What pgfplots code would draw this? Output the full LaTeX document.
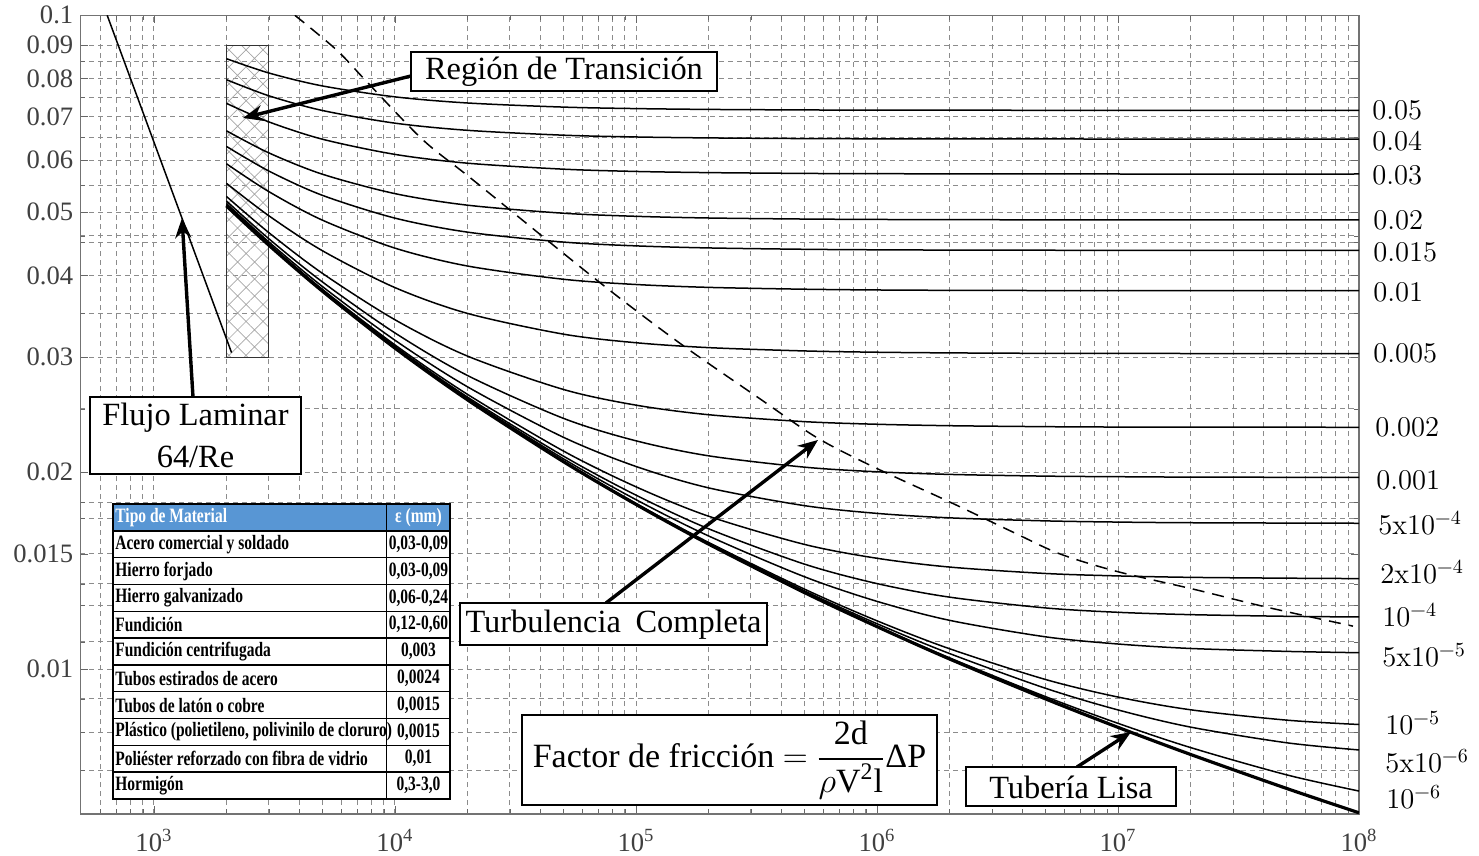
\documentclass[border=0pt]{standalone}
\usepackage{amsmath}
\usepackage{fontspec}
\setmainfont{Liberation Serif}
\newfontfamily\narrowserif[FakeStretch=0.76]{Liberation Serif}
\usepackage{pgfplots}
\pgfplotsset{compat=1.18}
\usetikzlibrary{arrows.meta,patterns.meta,calc}
\definecolor{hdr}{RGB}{88,150,212}
\definecolor{gridc}{RGB}{140,140,140}
\newcommand\lmfont{\fontfamily{lmr}\fontsize{14.3}{16}\selectfont}
\begin{document}
\begin{tikzpicture}
\begin{axis}[
  scale only axis, width=639.35pt, height=399.35pt,
  xmode=log, ymode=log,
  xmin=495, xmax=1e8, ymin=0.006, ymax=0.1,
  xtick={1e3,1e4,1e5,1e6,1e7,1e8},
  xticklabels={10\textsuperscript{3},10\textsuperscript{4},10\textsuperscript{5},10\textsuperscript{6},10\textsuperscript{7},10\textsuperscript{8}},
  minor xtick={600,700,800,900,2000,3000,4000,5000,6000,7000,8000,9000,
    2e4,3e4,4e4,5e4,6e4,7e4,8e4,9e4,2e5,3e5,4e5,5e5,6e5,7e5,8e5,9e5,
    2e6,3e6,4e6,5e6,6e6,7e6,8e6,9e6,2e7,3e7,4e7,5e7,6e7,7e7,8e7,9e7},
  ytick={0.01,0.015,0.02,0.03,0.04,0.05,0.06,0.07,0.08,0.09,0.1},
  yticklabels={0.01,0.015,0.02,0.03,0.04,0.05,0.06,0.07,0.08,0.09,0.1},
  minor ytick={0.007,0.008,0.009,0.011,0.0125,0.0135,0.017,0.018,0.025,0.035,0.045,0.046,0.055,0.065,0.075,0.085},
  grid=both,
  major grid style={gridc, line width=0.45pt, dash pattern=on 2.5pt off 2pt},
  minor grid style={gridc, line width=0.45pt, dash pattern=on 2.5pt off 2pt},
  axis line style={black!55, line width=0.7pt},
  major tick length=4pt, minor tick length=2.5pt,
  tick style={black!60},
  tick label style={font=\fontsize{13.3}{15}\selectfont, text=black!75},
  xticklabel style={yshift=-4pt},
  curve/.style={black, solid, line width=0.75pt, smooth, mark=none},
  clip=true,
]
\coordinate (SW) at (rel axis cs:0,0);
% transition region
\draw[black!80, line width=0.5pt, pattern={Hatch[angle=45,distance=6pt,line width=0.35pt]}, pattern color=black!35]
  (axis cs:2000,0.03) rectangle (axis cs:3000,0.09);
% laminar 64/Re
\addplot[curve, sharp plot] coordinates {(640,0.1) (2100,0.030476)};
% dashed complete turbulence boundary
\addplot[curve, dash pattern=on 6pt off 4pt] coordinates {(3846,0.1) (5728,0.0885) (7631,0.0792) (13060,0.0645) (21070,0.0560) (70900,0.0390) (152200,0.0315) (327000,0.0259) (562000,0.0226) (961700,0.0204) (2.01e6,0.0180) (3.66e6,0.0162) (5.74e6,0.0150) (9.9e6,0.0141) (2.05e7,0.01325) (4.15e7,0.01243) (9.44e7,0.01163)};
% 0.05
\addplot[curve] coordinates {(2000,0.08583)(3000,0.08161)(5000,0.07799)(1e4,0.07504)(2e4,0.07344)(5e4,0.07238)(1e5,0.07200)(2e5,0.07179)(5e5,0.07166)(1e6,0.07161)(1e7,0.07156)(1e8,0.07155)};
% 0.04
\addplot[curve] coordinates {(2000,0.07972)(3000,0.07532)(5000,0.07152)(1e4,0.06840)(2e4,0.06669)(5e4,0.06556)(1e5,0.06515)(2e5,0.06493)(5e5,0.06478)(1e6,0.06473)(1e7,0.06468)(1e8,0.06467)};
% 0.03
\addplot[curve] coordinates {(2000,0.07334)(3000,0.06870)(5000,0.06464)(1e4,0.06127)(2e4,0.05940)(5e4,0.05816)(1e5,0.05770)(2e5,0.05746)(5e5,0.05730)(1e6,0.05724)(1e7,0.05718)(1e8,0.05718)};
% 0.02
\addplot[curve] coordinates {(2000,0.06658)(3000,0.06159)(5000,0.05714)(1e4,0.05336)(2e4,0.05123)(5e4,0.04980)(1e5,0.04926)(2e5,0.04897)(5e5,0.04879)(1e6,0.04872)(2e6,0.04868)(1e7,0.04865)(1e8,0.04864)};
% 0.015
\addplot[curve] coordinates {(2000,0.06302)(3000,0.05778)(5000,0.05304)(1e4,0.04895)(2e4,0.04659)(5e4,0.04499)(1e5,0.04439)(2e5,0.04407)(5e5,0.04386)(1e6,0.04378)(2e6,0.04374)(1e7,0.04370)(1e8,0.04369)};
% 0.01
\addplot[curve] coordinates {(2000,0.05928)(3000,0.05373)(5000,0.04860)(1e4,0.04404)(2e4,0.04135)(5e4,0.03947)(1e5,0.03875)(2e5,0.03836)(5e5,0.03811)(1e6,0.03801)(2e6,0.03796)(5e6,0.03793)(1e7,0.03792)(1e8,0.03791)};
% 0.005
\addplot[curve] coordinates {(2000,0.05533)(3000,0.04935)(5000,0.04364)(1e4,0.03833)(2e4,0.03499)(5e4,0.03253)(1e5,0.03156)(2e5,0.03102)(5e5,0.03066)(1e6,0.03052)(2e6,0.03045)(5e6,0.03040)(1e7,0.03039)(1e8,0.03037)};
% 0.002
\addplot[curve] coordinates {(2000,0.05283)(3000,0.04650)(5000,0.04030)(1e4,0.03422)(2e4,0.03011)(5e4,0.02677)(1e5,0.02533)(2e5,0.02449)(5e5,0.02390)(1e6,0.02368)(2e6,0.02356)(5e6,0.02348)(1e7,0.02345)(1e8,0.02343)};
% 0.001
\addplot[curve] coordinates {(2000,0.05197)(3000,0.04551)(5000,0.03910)(1e4,0.03267)(2e4,0.02812)(5e4,0.02418)(1e5,0.02234)(2e5,0.02119)(5e5,0.02036)(1e6,0.02003)(2e6,0.01985)(5e6,0.01973)(1e7,0.01969)(2e7,0.01966)(1e8,0.01964)};
% 5e-4
\addplot[curve] coordinates {(2000,0.05153)(3000,0.04500)(5000,0.03848)(1e4,0.03184)(2e4,0.02702)(5e4,0.02262)(1e5,0.02041)(2e5,0.01893)(5e5,0.01778)(1e6,0.01730)(2e6,0.01703)(5e6,0.01685)(1e7,0.01678)(2e7,0.01674)(1e8,0.01671)};
% 2e-4
\addplot[curve] coordinates {(2000,0.05127)(3000,0.04470)(5000,0.03810)(1e4,0.03132)(2e4,0.02631)(5e4,0.02155)(1e5,0.01900)(2e5,0.01713)(5e5,0.01551)(1e6,0.01477)(2e6,0.01432)(5e6,0.01400)(1e7,0.01388)(2e7,0.01381)(5e7,0.01377)(1e8,0.01375)};
% 1e-4
\addplot[curve] coordinates {(2000,0.05118)(3000,0.04459)(5000,0.03797)(1e4,0.03115)(2e4,0.02606)(5e4,0.02117)(1e5,0.01845)(2e5,0.01639)(5e5,0.01447)(1e6,0.01351)(2e6,0.01288)(5e6,0.01240)(1e7,0.01221)(2e7,0.01211)(5e7,0.01204)(1e8,0.01201)};
% 5e-5
\addplot[curve] coordinates {(2000,0.05114)(3000,0.04454)(5000,0.03791)(1e4,0.03106)(2e4,0.02594)(5e4,0.02097)(1e5,0.01816)(2e5,0.01598)(5e5,0.01384)(1e6,0.01269)(2e6,0.01187)(5e6,0.01120)(1e7,0.01092)(2e7,0.01075)(5e7,0.01064)(1e8,0.01059)};
% 1e-5
\addplot[curve] coordinates {(2000,0.05110)(3000,0.04450)(5000,0.03786)(1e4,0.03099)(2e4,0.02584)(5e4,0.02080)(1e5,0.01792)(2e5,0.01562)(5e5,0.01325)(1e6,0.01185)(2e6,0.01074)(5e6,0.009638)(1e7,0.009059)(2e7,0.008662)(5e7,0.008352)(1e8,0.008224)};
% 5e-6
\addplot[curve] coordinates {(2000,0.05110)(3000,0.04450)(5000,0.03785)(1e4,0.03098)(2e4,0.02583)(5e4,0.02078)(1e5,0.01789)(2e5,0.01558)(5e5,0.01317)(1e6,0.01173)(2e6,0.01056)(5e6,0.009344)(1e7,0.008657)(2e7,0.008149)(5e7,0.007713)(1e8,0.007519)};
% 1e-6
\addplot[curve] coordinates {(2000,0.05109)(3000,0.04449)(5000,0.03785)(1e4,0.03097)(2e4,0.02582)(5e4,0.02077)(1e5,0.01787)(2e5,0.01554)(5e5,0.01311)(1e6,0.01163)(2e6,0.01040)(5e6,0.009074)(1e7,0.008258)(2e7,0.007583)(5e7,0.006889)(1e8,0.006506)};
% smooth pipe
\addplot[curve, line width=1.6pt] coordinates {(2000,0.05109)(3000,0.04449)(5000,0.03785)(1e4,0.03097)(2e4,0.02581)(5e4,0.02076)(1e5,0.01786)(2e5,0.01553)(5e5,0.01309)(1e6,0.01161)(2e6,0.01036)(5e6,0.009001)(1e7,0.008142)(2e7,0.007401)(5e7,0.006567)(1e8,0.006026)};
\end{axis}
% annotations in image-pixel coordinates
\begin{scope}[shift={($(SW)+(-40.15pt,407pt)$)}, x=0.5pt, y=-0.5pt]
  \tikzset{ann/.style={font=\fontsize{16.2}{18}\selectfont, inner sep=0pt},
           arr/.style={line width=1.7pt, -{Stealth[length=10pt,width=8pt]}},
           box/.style={fill=white, draw=black, line width=0.8pt}}
  % Region de transicion
  \draw[arr] (411,76) -- (243,118);
  \draw[box] (411,52) rectangle (717,91);
  \node[ann] at (564,72) {Región de Transición};
  % laminar
  \draw[arr] (193,397) -- (182,218);
  \draw[box] (90,397) rectangle (301,474);
  \node[ann] at (195.5,418) {Flujo Laminar};
  \node[ann] at (195.5,457) {64/Re};
  % turbulencia completa
  \draw[arr] (606,603) -- (818,440);
  \draw[box] (460,603) rectangle (767,645);
  \node[ann] at (613.5,625) {Turbulencia\hspace{0.45em}Completa};
  % formula
  \draw[box] (522,715) rectangle (937,805);
  \node[ann, font=\fontsize{17}{19}\selectfont] at (729.5,760) {Factor de fricción $=$ $\dfrac{\text{2d}}{\rho\text{V}^{\text{2}}\text{l}}$ΔP};
  % tuberia lisa
  \draw[arr] (1077,767) -- (1131,732);
  \draw[box] (966,767) rectangle (1176,806);
  \node[ann] at (1071,787) {Tubería Lisa};
  % roughness labels
  \begin{scope}[every node/.style={anchor=west, font=\lmfont, inner sep=0pt}]
    \node at (1372,110) {0.05};
    \node at (1372,141) {0.04};
    \node at (1372,175) {0.03};
    \node at (1373,220) {0.02};
    \node at (1373,252) {0.015};
    \node at (1373,292) {0.01};
    \node at (1373,353) {0.005};
    \node at (1375,427) {0.002};
    \node at (1376,480) {0.001};
    \node at (1378,523) {5x10\textsuperscript{−4}};
    \node at (1380,572) {2x10\textsuperscript{−4}};
    \node at (1382,615) {10\textsuperscript{−4}};
    \node at (1382,655) {5x10\textsuperscript{−5}};
    \node at (1385,723) {10\textsuperscript{−5}};
    \node at (1385,761) {5x10\textsuperscript{−6}};
    \node at (1386,797) {10\textsuperscript{−6}};
  \end{scope}
  % table
  \fill[white] (113,504) rectangle (450,799);
  \fill[hdr] (113,504) rectangle (450,531);
  \foreach \yy in {531,557.8,584.6,611.4,638.2,665,691.8,718.6,745.4,772.2}
    \draw[line width=0.7pt] (113,\yy) -- (450,\yy);
  \draw[line width=0.7pt] (386.7,504) -- (386.7,799);
  \draw[line width=0.9pt] (113,504) rectangle (450,799);
  \begin{scope}[every node/.style={font=\narrowserif\bfseries\fontsize{10.2}{12}\selectfont, inner sep=0pt}]
    \node[anchor=west, text=white] at (115,518) {Tipo de Material};
    \node[text=white] at (418.5,518) {ε (mm)};
    \foreach \yc/\name/\val in {
      544.4/Acero comercial y soldado/{0,03-0,09},
      571.2/Hierro forjado/{0,03-0,09},
      598/Hierro galvanizado/{0,06-0,24},
      624.8/Fundición/{0,12-0,60},
      651.6/Fundición centrifugada/{0,003},
      678.4/Tubos estirados de acero/{0,0024},
      705.2/Tubos de latón o cobre/{0,0015},
      732/{Plástico (polietileno, polivinilo de cloruro)}/{0,0015},
      758.8/Poliéster reforzado con fibra de vidrio/{0,01},
      785.6/Hormigón/{0,3-3,0}}{
      \node[anchor=west] at (115,\yc) {\name};
      \node at (418.5,\yc) {\val};
    }
  \end{scope}
  \pgfresetboundingbox
  \path[use as bounding box] (0,0) rectangle (1479,856);
\end{scope}
\end{tikzpicture}
\end{document}
